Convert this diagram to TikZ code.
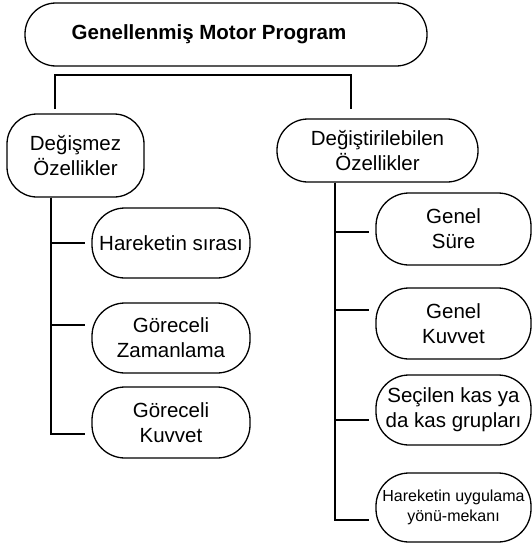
\documentclass[tikz,border=0pt]{standalone}
\usepackage{fontspec}
\setmainfont{Liberation Sans}

\begin{document}
\begin{tikzpicture}[x=1pt,y=-1pt,
        box/.style={draw, line width=1.3pt, rounded corners=33pt, align=center,
                    inner sep=2pt, font=\fontsize{20.5}{25}\selectfont},
        conn/.style={line width=1.6pt}]
            \useasboundingbox (0,0) rectangle (532,549);

            % main program
            \node[box, rounded corners=31pt, minimum width=402pt, minimum height=63pt,
                  font=\fontsize{20.5}{25}\selectfont\bfseries]
                (gmp) at (226,34.5) {\hspace*{-34pt}Genellenmiş Motor Program};

            % the two groups
            \node[box, rounded corners=30pt, minimum width=137pt, minimum height=83pt] (dgsmz) at (75.5,155.5) {Değişmez\\Özellikler};
            \node[box, rounded corners=31pt, minimum width=201pt, minimum height=63pt] (dgst) at (377.5,150.5) {Değiştirilebilen\\Özellikler};

            % left column
            \node[box, minimum width=158pt, minimum height=70pt] (hs) at (171,243) {Hareketin sırası};
            \node[box, minimum width=158pt, minimum height=70pt] (gz) at (171,338) {Göreceli\\Zamanlama};
            \node[box, minimum width=158pt, minimum height=71pt] (gk) at (171,422.5) {Göreceli\\Kuvvet};

            % right column
            \node[box, minimum width=155pt, minimum height=72pt] (gs) at (453.5,229) {Genel\\Süre};
            \node[box, minimum width=155pt, minimum height=71pt] (gkv) at (453.5,323.5) {Genel\\Kuvvet};
            \node[box, minimum width=155pt, minimum height=70pt] (sk) at (453.5,410) {Seçilen kas ya\\da kas grupları};
            \node[box, minimum width=155pt, minimum height=69pt, font=\fontsize{16}{20}\selectfont]
                (hu) at (453.5,507.5) {Hareketin uygulama\\yönü-mekanı};

            \coordinate (bl) at (55,109);
            \coordinate (br) at (351,109);
            \coordinate (ltop) at (dgsmz.south -| 51,0);
            \coordinate (rtop) at (dgst.south -| 335,0);

            \draw[conn] (bl) -- ++(0,-34) -| (br);

            \draw[conn] (ltop) |- ([xshift=-6pt]hs.west);
            \draw[conn] (ltop) |- ([shift={(-6pt,13pt)}]gz.west);
            \draw[conn] (ltop) |- ([shift={(-6pt,-11.5pt)}]gk.west);

            \draw[conn] (rtop) |- ([shift={(-6pt,-3pt)}]gs.west);
            \draw[conn] (rtop) |- ([shift={(-6pt,13.5pt)}]gkv.west);
            \draw[conn] (rtop) |- ([shift={(-6pt,-10pt)}]sk.west);
            \draw[conn] (rtop) |- ([shift={(-6pt,-12.5pt)}]hu.west);
        \end{tikzpicture}
\end{document}
